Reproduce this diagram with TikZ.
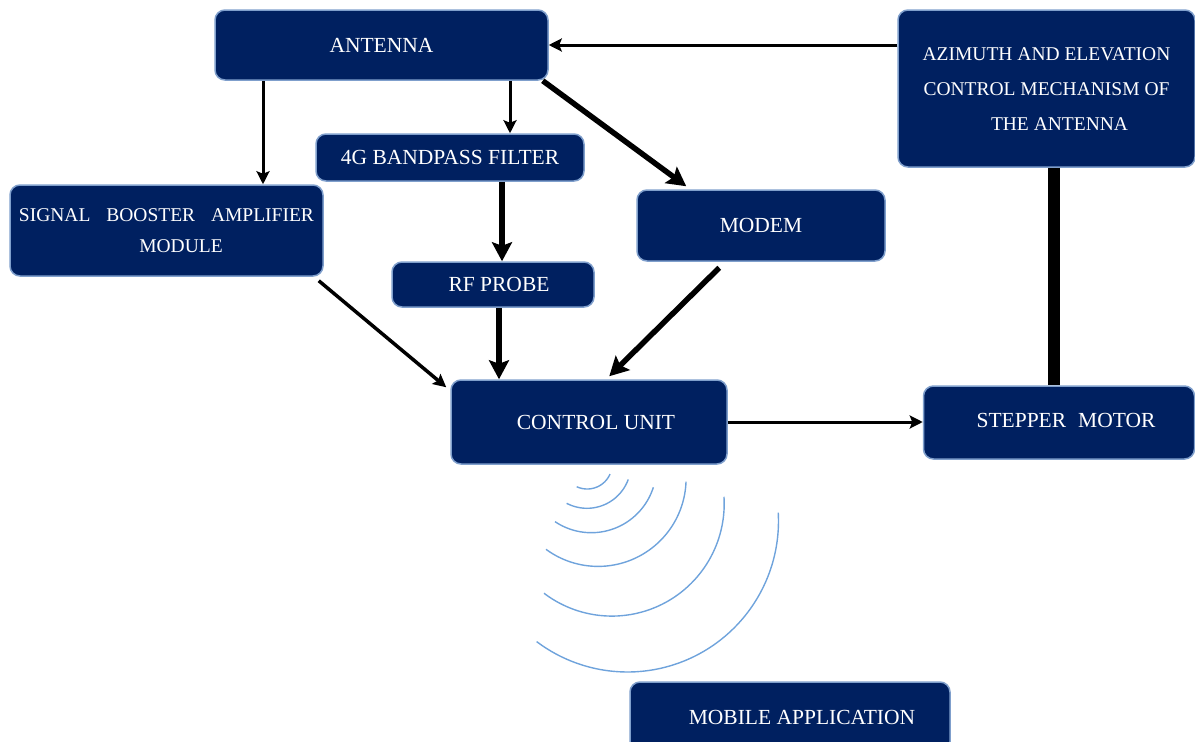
\documentclass[tikz,border=0pt]{standalone}
\usepackage{fontspec}
\setmainfont{Liberation Serif}
\usetikzlibrary{positioning,calc,arrows.meta}
\definecolor{boxnavy}{HTML}{002060}
\definecolor{boxedge}{HTML}{7F9FCC}
\definecolor{wave}{HTML}{6FA3DC}

\begin{document}
\begin{tikzpicture}[x=1pt,y=-1pt,
    block/.style={draw=boxedge,line width=1.5pt,fill=boxnavy,rounded corners=10pt,text=white,
      inner sep=0pt,font=\fontsize{21.5}{26}\selectfont},
    link/.style={line width=3pt,-{Stealth[length=13pt,width=13pt,inset=2.5pt]}},
    heavylink/.style={line width=5.5pt,-{Stealth[length=19pt,width=20pt,inset=3.5pt]}},
    radio/.style={draw=wave,line width=1.4pt}]
\useasboundingbox (0,0) rectangle (1195,742);

\node[block,minimum width=333pt,minimum height=70pt] (antenna) at (381.5,45) {ANTENNA};
\node[block,minimum width=297pt,minimum height=157pt] (azimuth) at (1046.5,88.5)
  {\raisebox{6.5pt}{\fontsize{19.5}{35}\selectfont\begin{tabular}{@{}c@{}}AZIMUTH AND ELEVATION\\
   CONTROL MECHANISM OF\\ \hspace*{26pt}THE ANTENNA\end{tabular}}};
\node[block,minimum width=268pt,minimum height=47pt] (bandpass) at (450,157.5) {4G BANDPASS FILTER};
\node[block,minimum width=313pt,minimum height=91pt,align=center,font=\fontsize{19.5}{31}\selectfont]
  (booster) at (166.5,230.5) {\makebox[295pt][s]{SIGNAL BOOSTER AMPLIFIER}\\ \hspace*{29pt}MODULE};
\node[block,minimum width=248pt,minimum height=71pt] (modem) at (761,225.5) {MODEM};
\node[block,minimum width=202pt,minimum height=45pt] (probe) at (493,284.5) {\hspace*{12pt}RF PROBE};
\node[block,minimum width=276pt,minimum height=84pt] (control) at (589,422) {\hspace*{14pt}CONTROL UNIT};
\node[block,minimum width=271pt,minimum height=73pt] (stepper) at (1059,422.5)
  {\hspace*{14pt}\raisebox{5pt}{STEPPER\hspace{12pt}MOTOR}};
\node[block,minimum width=320pt,minimum height=70pt] (mobile) at (790,717) {\hspace*{24pt}MOBILE APPLICATION};

\coordinate (bsin) at ([xshift=96.5pt]booster.north);
\coordinate (bpin) at ([xshift=60pt]bandpass.north);
\coordinate (prin) at ([xshift=9pt]probe.north);
\coordinate (ctin) at ([xshift=-90pt]control.north);
\coordinate (bar) at ([xshift=7.5pt]azimuth.south);

\draw[link] (azimuth.west |- antenna.east) -- (antenna.east);
\draw[link] (antenna.south -| bsin) -- (bsin);
\draw[link] (antenna.south -| bpin) -- (bpin);
\draw[heavylink] ([xshift=-6pt]antenna.south east) -- ([xshift=50pt,yshift=3pt]modem.north west);
\draw[heavylink] (bandpass.south -| prin) -- (prin);
\draw[heavylink] (ctin |- probe.south) -- (ctin);
\draw[link,line width=3.5pt] ([xshift=-5pt,yshift=-4pt]booster.south east) -- ([xshift=-4pt,yshift=-8pt]control.north west);
\draw[heavylink] ([xshift=83pt,yshift=-6pt]modem.south west) -- ([xshift=159pt,yshift=3pt]control.north west);
\draw[link] (control.east) -- (stepper.west |- control.east);
\draw[line width=12pt] (bar) -- (bar |- stepper.north);

\foreach \cx/\cy/\r/\a/\b in {587.2/464.1/24.9/23.5/114.9, 587.0/464.4/43.9/20.1/117.6,
    591.3/467.6/65.1/17.6/123.9, 598.1/478.4/88/2.1/126.3, 611.9/503.8/112.3/-3.6/127.2,
    627.5/521/151/-3.2/127}
  \draw[radio] plot[domain=\a:\b,samples=40,smooth,variable=\t] ({\cx+\r*cos(\t)},{\cy+\r*sin(\t)});
\end{tikzpicture}
\end{document}
